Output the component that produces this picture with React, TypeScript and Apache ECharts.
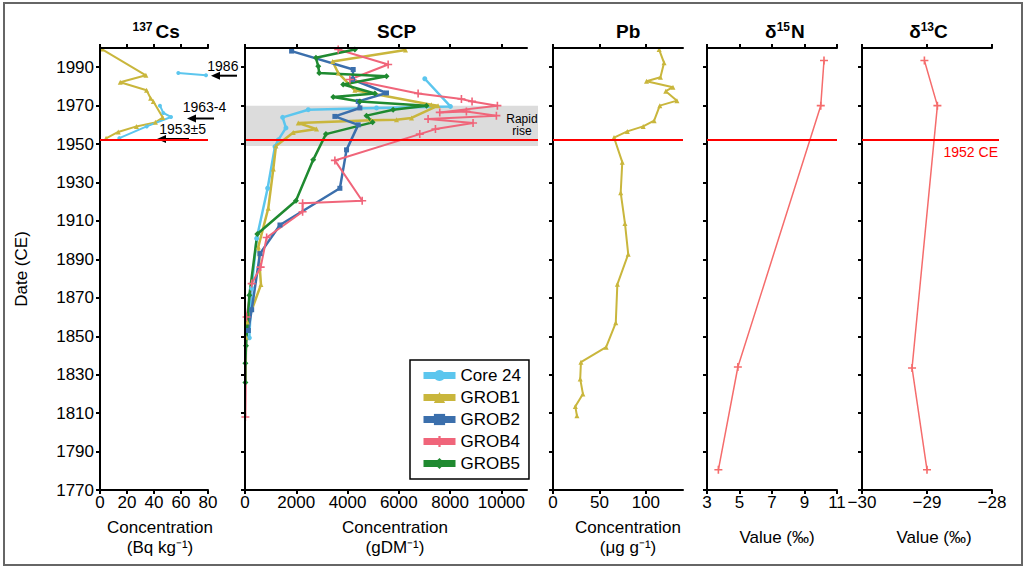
import React, { useEffect, useRef } from 'react';
import * as echarts from 'echarts';

const FONT = '"Liberation Sans", Arial, Helvetica, sans-serif';

// Shared depth-date axis
const YEAR_MIN = 1770;
const YEAR_MAX = 2000;
const YEAR_TICKS = [1770, 1790, 1810, 1830, 1850, 1870, 1890, 1910, 1930, 1950, 1970, 1990];
const REF_YEAR = 1952;
const RAPID_RISE = [1949, 1970];

// Series colours
const C_CORE24 = '#5cc6ee';
const C_GROB1 = '#c9b63c';
const C_GROB2 = '#3b6fac';
const C_GROB4 = '#f0657a';
const C_GROB5 = '#1f8a30';
const C_DELTA = '#f56c6c';
const C_REF = '#ff0000';

const PLUS = 'path://M4,0H6V4H10V6H6V10H4V6H0V4H4Z';

// 137Cs activity (Bq kg-1) against date (CE)
const csGrob1 = [
  [1.0, 1999.5], [34, 1985.8], [15, 1982.2], [34.5, 1978], [37.5, 1973.8], [39.5, 1972.2],
  [46.5, 1963.8], [41, 1961.3], [27, 1959.2], [13.5, 1956.3], [4.5, 1953],
];
const csCore24Upper = [[58, 1987], [78.5, 1985.8]];
const csCore24Lower = [[44.4, 1970], [46.9, 1966.2], [52.6, 1964.1], [34.6, 1959.2], [14.3, 1953.1]];

// SCP concentration (gDM-1) against date (CE)
const scpCore24 = [
  [7013, 1984], [8013, 1969.6], [5130, 1968.8], [2467, 1967.9], [1468, 1963.9], [1597, 1958.4],
  [1299, 1952.2], [1169, 1948.7], [883, 1927], [455, 1900.9], [260, 1875], [169, 1849.2],
];
const scpGrob1 = [
  [6260, 1999], [3416, 1993], [3636, 1987], [4286, 1978], [7273, 1970.5], [7532, 1970],
  [6494, 1963.6], [5909, 1962.7], [4935, 1962.4], [2078, 1961], [2792, 1957.8], [1883, 1956],
  [1208, 1949], [1104, 1937], [908, 1916.6], [519, 1896.5], [623, 1876.9], [91, 1857.4], [39, 1849.5],
];
const scpGrob2 = [
  [1818, 1998.4], [4221, 1988.8], [4195, 1983.6], [5519, 1976.6], [4416, 1972.2], [4481, 1968.8],
  [3506, 1964.4], [4416, 1960], [3961, 1947], [3701, 1927], [1364, 1907.9], [584, 1893],
  [260, 1863.8], [130, 1853],
];
const scpGrob4 = [
  [3636, 1999.2], [5584, 1991.4], [4091, 1983.6], [6753, 1976.3], [8442, 1973.5], [8857, 1972.2],
  [9845, 1970], [7597, 1966.5], [8636, 1967], [9806, 1964.8], [7142, 1963], [8896, 1961],
  [7429, 1957.8], [6818, 1955.2], [3506, 1941.5], [4571, 1920.5], [2247, 1919.2], [2247, 1914.8],
  [844, 1901.4], [611, 1886], [260, 1877.4], [60, 1860], [15, 1808],
];
const scpGrob5 = [
  [4286, 1999.2], [2766, 1994.9], [2857, 1990.5], [2896, 1987], [5519, 1985.3], [3831, 1981],
  [5065, 1976.3], [3442, 1974.5], [4481, 1972.2], [7079, 1970], [5779, 1967.9], [4740, 1964.8],
  [4975, 1961.3], [3156, 1955.2], [2661, 1941.8], [1987, 1920.5], [480, 1903.2], [169, 1871.3],
  [39, 1845], [15, 1836], [15, 1826],
];

// Pb concentration (ug g-1) against date (CE)
const pbGrob1 = [
  [114.3, 1999.2], [119.6, 1992.3], [115.7, 1984.8], [100.7, 1982.7], [129.2, 1979.6],
  [121.4, 1977.5], [133.5, 1972.6], [115, 1970], [108.9, 1962.2], [97.1, 1959.2], [80, 1956.6],
  [65.7, 1953.4], [74.6, 1940.6], [72.9, 1924.7], [77.5, 1908.7], [81, 1892.7], [69.3, 1877],
  [67.6, 1857], [57.2, 1844.3], [30.1, 1836.5], [29.3, 1827.8], [32.2, 1820], [24, 1813.5],
  [25.8, 1808.6],
];

// Stable isotopes (per mil) against date (CE)
const d15N = [[10.2, 1993.5], [10.0, 1970], [4.9, 1834], [3.7, 1780.5]];
const d13C = [[-29.04, 1993.5], [-28.84, 1970], [-29.23, 1833.5], [-29.0, 1780.5]];

// Axis tick values
const CS_TICKS = [0, 20, 40, 60, 80];
const SCP_TICKS = [0, 2000, 4000, 6000, 8000, 10000];
const PB_TICKS = [0, 50, 100];
const N_TICKS = [3, 5, 7, 9, 11];
const C_TICKS = [-30, -29, -28];

const LEGEND_NAMES = ['Core 24', 'GROB1', 'GROB2', 'GROB4', 'GROB5'];

// Panel layout (pixels)
const GRID_TOP = 48;
const GRID_H = 442;
const panels = [
  { left: 100, width: 108, min: 0, max: 80, step: 20, ticks: CS_TICKS, name: 'Concentration\n(Bq kg⁻¹)', shift: 6, gap: 27, refLeft: 100, refRight: 208 },
  { left: 245, width: 282, min: 0, max: 11000, step: 2000, ticks: SCP_TICKS, name: 'Concentration\n(gDM⁻¹)', shift: 9, gap: 27, refLeft: 246, refRight: 538 },
  { left: 553, width: 130, min: 0, max: 140, step: 50, ticks: PB_TICKS, name: 'Concentration\n(μg g⁻¹)', shift: 10, gap: 27, refLeft: 553, refRight: 683 },
  { left: 707, width: 130, min: 3, max: 11, step: 2, ticks: N_TICKS, name: 'Value (‰)', shift: 5, gap: 37, refLeft: 707, refRight: 837 },
  { left: 862, width: 130, min: -30, max: -28, step: 1, ticks: C_TICKS, name: 'Value (‰)', shift: 7, gap: 37, refLeft: 862, refRight: 999 },
];

const axisLine = { show: true, onZero: false, lineStyle: { color: '#000', width: 2 } };
const axisTick = (vals: number[]) => ({
  show: true, length: 4, customValues: vals, lineStyle: { color: '#000', width: 2 },
});
const plain = (v: number) => String(v).replace('-', '−');

function lineSeries(name: string, data: number[][], color: string, symbol: string, xi: number, yi: number, width = 2.5, size = 5) {
  return {
    type: 'line', name, data, xAxisIndex: xi, yAxisIndex: yi,
    symbol, symbolSize: size, showSymbol: true, z: 2,
    lineStyle: { color, width }, itemStyle: { color },
    emphasis: { disabled: true }, silent: true,
  };
}

function arrow(tip: number, tail: number, y: number) {
  return [
    { type: 'line', shape: { x1: tip + 6, y1: y, x2: tail, y2: y }, style: { stroke: '#000', lineWidth: 2 } },
    { type: 'polygon', shape: { points: [[tip, y], [tip + 9, y - 4], [tip + 9, y + 4]] }, style: { fill: '#000' } },
  ];
}

function titleText(text: string, x: number, y: number, size: number) {
  return {
    type: 'text', x, y,
    style: { text, fontSize: size, fontWeight: 'bold', fontFamily: FONT, fill: '#000', align: 'left', verticalAlign: 'middle' },
  };
}

function annText(text: string, x: number, y: number) {
  return {
    type: 'text', x, y,
    style: { text, fontSize: 14, fontFamily: FONT, fill: '#000', align: 'left', verticalAlign: 'middle' },
  };
}

function buildOption() {
  const grid: any[] = [];
  const xAxis: any[] = [];
  const yAxis: any[] = [];

  panels.forEach((p, i) => {
    grid.push({ left: p.left, top: GRID_TOP, width: p.width, height: GRID_H });
    xAxis.push({
      type: 'value', gridIndex: i, position: 'bottom', min: p.min, max: p.max, interval: p.step,
      axisLine, axisTick: axisTick(p.ticks), splitLine: { show: false },
      axisLabel: {
        customValues: p.ticks, fontSize: 17, color: '#000',
        fontFamily: FONT, margin: 4, formatter: plain,
      },
      name: p.name, nameLocation: 'middle', nameGap: p.gap,
      nameTextStyle: { fontSize: 17, lineHeight: 20, color: '#000', fontFamily: FONT, padding: [0, 0, 0, 2 * p.shift] },
      z: 3,
    });
    xAxis.push({
      type: 'value', gridIndex: i, position: 'top', min: p.min, max: p.max, interval: p.step,
      axisLine, axisTick: axisTick(p.ticks), splitLine: { show: false }, axisLabel: { show: false }, z: 3,
    });
    yAxis.push({
      type: 'value', gridIndex: i, position: 'left', min: YEAR_MIN, max: YEAR_MAX, interval: 20,
      axisLine, axisTick: axisTick(YEAR_TICKS), splitLine: { show: false },
      axisLabel: {
        show: i === 0, customValues: YEAR_TICKS, fontSize: 17, color: '#000',
        fontFamily: FONT, margin: 6, formatter: plain,
      },
      name: i === 0 ? 'Date (CE)' : '', nameLocation: 'middle', nameRotate: 90, nameGap: 70,
      nameTextStyle: { fontSize: 17, color: '#000', fontFamily: FONT },
      z: 3,
    });
  });

  // Overlay grids carrying the 1952 CE reference line and the rapid-rise band
  panels.forEach((p, i) => {
    grid.push({ left: p.refLeft, top: GRID_TOP, width: p.refRight - p.refLeft, height: GRID_H });
    xAxis.push({ type: 'value', gridIndex: 5 + i, min: 0, max: 1, show: false });
    yAxis.push({ type: 'value', gridIndex: 5 + i, min: YEAR_MIN, max: YEAR_MAX, show: false });
  });

  const series: any[] = [
    lineSeries('GROB1', csGrob1, C_GROB1, 'triangle', 0, 0, 2, 5),
    lineSeries('Core 24', csCore24Upper, C_CORE24, 'circle', 0, 0, 2, 4),
    lineSeries('Core 24', csCore24Lower, C_CORE24, 'circle', 0, 0, 2, 4),

    lineSeries('Core 24', scpCore24, C_CORE24, 'circle', 2, 1),
    lineSeries('GROB1', scpGrob1, C_GROB1, 'triangle', 2, 1),
    lineSeries('GROB2', scpGrob2, C_GROB2, 'rect', 2, 1),
    lineSeries('GROB4', scpGrob4, C_GROB4, PLUS, 2, 1, 2, 8),
    lineSeries('GROB5', scpGrob5, C_GROB5, 'diamond', 2, 1, 2.5, 6),

    lineSeries('GROB1', pbGrob1, C_GROB1, 'triangle', 4, 2, 2, 5),

    lineSeries('δ15N', d15N, C_DELTA, PLUS, 6, 3, 1.5, 8),
    lineSeries('δ13C', d13C, C_DELTA, PLUS, 8, 4, 1.5, 8),
  ];

  panels.forEach((p, i) => {
    const s: any = {
      type: 'line', name: 'ref' + i, data: [], xAxisIndex: 10 + i, yAxisIndex: 5 + i, z: 1, silent: true,
      markLine: {
        silent: true, symbol: ['none', 'none'],
        lineStyle: { color: C_REF, width: 2, type: 'solid' },
        label: i === 4
          ? { show: true, formatter: '1952 CE', position: 'insideEndBottom', color: C_REF, fontSize: 14, fontFamily: FONT, distance: [1, 5] }
          : { show: false },
        emphasis: { disabled: true },
        data: [{ yAxis: REF_YEAR }],
      },
    };
    if (i === 1) {
      s.markArea = {
        silent: true,
        itemStyle: { color: '#dcdcdc' },
        label: {
          show: true, formatter: 'Rapid\nrise', position: ['94.5%', '47%'], align: 'center', verticalAlign: 'middle',
          fontSize: 12, lineHeight: 12, color: '#000', fontFamily: FONT,
        },
        emphasis: { disabled: true },
        data: [[{ yAxis: RAPID_RISE[0] }, { yAxis: RAPID_RISE[1] }]],
      };
    }
    series.push(s);
  });

  const graphic: any[] = [
    { type: 'rect', shape: { x: 4, y: 3, width: 1018, height: 562 }, style: { fill: 'none', stroke: '#666', lineWidth: 2 }, z: 10 },
    titleText('137', 132.5, 26.5, 12),
    titleText('Cs', 155.5, 31.7, 19),
    titleText('SCP', 377, 31.7, 19),
    titleText('Pb', 616, 31.7, 19),
    titleText('δ', 765, 31.7, 19),
    titleText('15', 776.7, 26.5, 12),
    titleText('N', 791, 31.7, 19),
    titleText('δ', 909.3, 31.7, 19),
    titleText('13', 920.7, 26.5, 12),
    titleText('C', 934, 31.7, 19),
    annText('1986', 207.3, 65.5),
    annText('1963-4', 182.7, 106.7),
    annText('1953±5', 159.3, 129),
    ...arrow(211, 237, 75.7),
    ...arrow(187, 214, 118.5),
    ...arrow(157, 189, 139),
  ];

  return {
    animation: false,
    backgroundColor: '#fff',
    textStyle: { fontFamily: FONT },
    grid,
    xAxis,
    yAxis,
    series,
    graphic,
    legend: {
      data: LEGEND_NAMES,
      orient: 'vertical',
      left: 410,
      top: 360,
      itemWidth: 32,
      itemHeight: 14,
      itemGap: 5,
      padding: [7, 8, 7, 10],
      borderColor: '#000',
      borderWidth: 1.5,
      backgroundColor: '#fff',
      selectedMode: false,
      lineStyle: { width: 7 },
      textStyle: { fontSize: 17, color: '#000', fontFamily: FONT },
    },
  };
}

export default function App() {
  const ref = useRef<HTMLDivElement>(null);
  useEffect(() => {
    const chart = echarts.init(ref.current!, null, { renderer: 'svg' });
    chart.setOption(buildOption() as any);
    return () => chart.dispose();
  }, []);
  return (
    <div
      ref={ref}
      style={{ position: 'absolute', left: 0, top: 0, width: 1028, height: 570, background: '#fff' }}
    />
  );
}
